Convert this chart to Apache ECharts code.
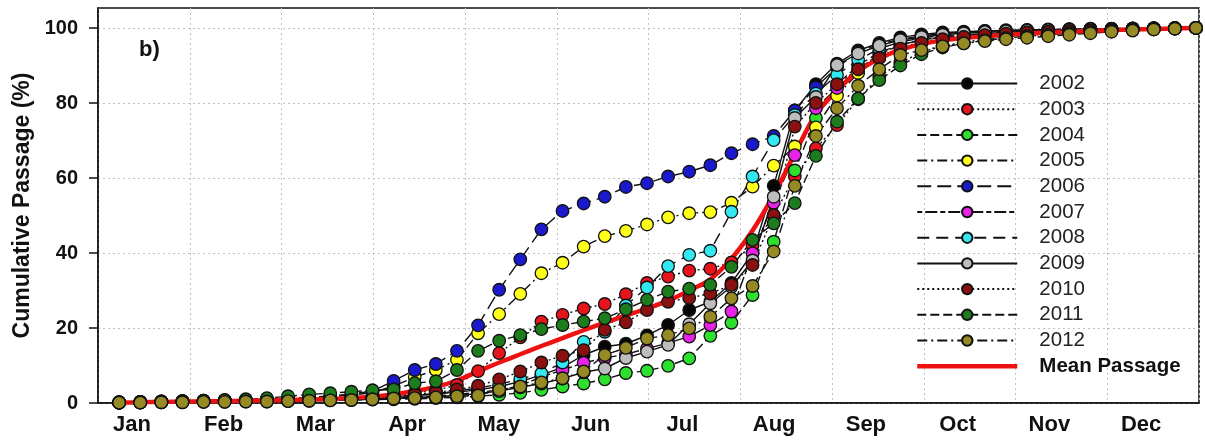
<!DOCTYPE html>
<html>
<head>
<meta charset="utf-8">
<script src="https://cdn.jsdelivr.net/npm/echarts@6/dist/echarts.min.js"></script>
<style>
html,body{margin:0;padding:0;background:#fff;}
#chart{width:1205px;height:445px;}
</style>
</head>
<body>
<div id="chart"></div>
<script>
const months = ['Jan','Feb','Mar','Apr','May','Jun','Jul','Aug','Sep','Oct','Nov','Dec'];
const yTicks = [0,20,40,60,80,100];
// sample day of year for each weekly point
const days = [7,14,21,28,35,42,49,56,63,70,77,84,91,98,105,112,119,126,133,140,147,154,161,168,175,182,189,196,203,210,217,224,231,238,245,252,259,266,273,280,287,294,301,308,315,322,329,336,343,350,357,364];

const y2002 = [0.1,0.2,0.3,0.4,0.5,0.6,0.7,0.8, 0.9,1.0,1.1,1.3,1.5, 1.7,2.0,2.4,2.9,3.5,4.4,5.7, 7.5,9.5,12.8,15,15.8,18,20.8,24.8,27, 32,40,57.9,78,85,90.5,94,96,97.5,98.3,98.8, 99.0,99.2,99.3,99.4,99.5,99.6,99.7,99.75,99.8,99.85,99.9,100];
const y2003 = [0.1,0.2,0.3,0.4,0.5,0.6,0.7,0.8, 0.9,1.0,1.2,1.4,1.7, 2.1,2.7,3.4,4.8,8.5,13.3,17.5, 21.7,23.5,25.2,26.4,29,32,33.7,35.3,35.8, 37.5,42,50,60.4,67.9,74.1,81,87,90.8,93.5,95.2, 96.2,97,97.6,98,98.4,98.7,99,99.3,99.5,99.7,99.85,100];
const y2004 = [0.1,0.1,0.2,0.2,0.3,0.3,0.4,0.4, 0.5,0.6,0.7,0.8,0.9, 1.0,1.1,1.3,1.5,1.8,2.2,2.7, 3.5,4.4,5.2,6.3,8,8.6,9.9,11.9,17.9, 21.4,28.8,43,62,76,85,90,93.5,95.5,96.8,97.6, 98.1,98.5,98.8,99,99.2,99.4,99.55,99.7,99.8,99.88,99.95,100];
const y2005 = [0.2,0.3,0.4,0.5,0.6,0.7,0.8,1.0, 1.2,1.4,1.7,2.1,2.8, 4.5,6.9,8.8,11.5,18.6,23.7,29.1, 34.6,37.4,41.7,44.5,45.9,47.6,49.5,50.6,50.9, 53.4,57.7,63.3,68.4,73.5,82,88,92,94.8,96.3,97.2, 97.8,98.2,98.5,98.8,99,99.2,99.4,99.55,99.7,99.8,99.9,100];
const y2006 = [0.2,0.3,0.4,0.5,0.6,0.7,0.8,1.0, 1.2,1.5,1.9,2.4,3.2, 5.9,8.8,10.4,13.9,20.7,30.2,38.3, 46.3,51.2,53.2,55.0,57.6,58.6,60.4,61.7,63.4, 66.6,69.0,71.2,78,84.2,89.5,93.5,95.7,97,97.9,98.5, 98.9,99.2,99.4,99.5,99.6,99.7,99.8,99.85,99.9,99.93,99.96,100];
const y2007 = [0.1,0.2,0.3,0.4,0.5,0.6,0.7,0.8, 0.9,1.0,1.1,1.2,1.3, 1.4,1.6,1.9,2.3,2.8,3.5,4.6, 7,8.8,10.7,12,13,14.5,16,17.7,20.8, 24.4,39.9,53.4,66.1,78.6,84,89,93,95.5,96.8,97.6, 98.1,98.5,98.8,99,99.2,99.4,99.55,99.7,99.8,99.88,99.95,100];
const y2008 = [0.1,0.2,0.3,0.4,0.5,0.6,0.7,0.8, 0.9,1.0,1.1,1.3,1.5, 1.7,2.0,2.5,3.2,4.0,5.0,6.4, 7.9,10.8,16.3,19,26,30.8,36.5,39.5,40.6, 51,60.4,70.1,76.8,82.5,87.5,91.5,94.5,96.3,97.3,98, 98.4,98.7,99,99.2,99.4,99.5,99.6,99.7,99.8,99.88,99.95,100];
const y2009 = [0.1,0.2,0.2,0.3,0.4,0.5,0.6,0.7, 0.8,0.9,1.0,1.1,1.2, 1.3,1.5,1.7,2.0,2.5,3.2,4.2, 5.2,6.5,8.2,9.2,12,13.7,15.5,21,26.6, 31,38,55,76,81.6,90.1,93.2,95.3,96.8,97.6,98.2, 98.6,98.9,99.1,99.3,99.45,99.6,99.7,99.78,99.85,99.9,99.95,100];
const y2010 = [0.1,0.2,0.3,0.4,0.5,0.6,0.7,0.8, 0.9,1.0,1.1,1.2,1.4, 1.7,2.2,2.8,3.6,4.6,6.3,8.4, 10.8,12.6,14.1,19.5,21.5,24.8,27,28,29.2, 31.5,36.8,50.1,73.7,80,85,89,92,94.5,96,97, 97.6,98.1,98.5,98.8,99,99.2,99.4,99.55,99.7,99.8,99.9,100];
const y2011 = [0.2,0.3,0.4,0.5,0.6,0.8,1.0,1.3, 1.8,2.3,2.6,3.0,3.4, 3.6,5.3,5.8,8.8,13.9,16.6,18.1, 19.7,20.8,21.7,22.6,25,27.5,29.7,30.5,31.5, 36.3,43.5,47.9,53.3,65.9,75,81.2,86.1,90,93,94.8, 95.9,96.7,97.3,97.8,98.2,98.6,98.9,99.2,99.45,99.65,99.85,100];
const y2012 = [0.1,0.1,0.2,0.2,0.3,0.3,0.4,0.4, 0.5,0.6,0.7,0.8,1.0, 1.2,1.3,1.5,1.8,2.0,3.5,4.4, 5.5,6.6,8.4,12.8,14.7,17.2,18.1,19.9,23, 27.9,31.2,40.4,57.9,71.2,78.6,84.6,89,92.8,94.1,95.1, 95.9,96.5,97,97.4,97.8,98.2,98.6,99,99.3,99.6,99.8,100];
const yMean = [0.1,0.2,0.3,0.35,0.4,0.5,0.6,0.7, 0.8,0.95,1.1,1.3,1.7, 2.3,3.2,4.3,6.0,8.4,10.8,13.0, 15.2,17.3,19.4,21.4,23.3,25.2,27.3,30.0,33.0, 38.5,46,55.5,66.5,77,83.3,88.5,91.8,94.2,95.7,96.7, 97.3,97.8,98.2,98.5,98.8,99.05,99.25,99.45,99.6,99.75,99.88,100];

const FONT = '"Liberation Sans", Arial, Helvetica, sans-serif';

const yearDefs = [
  ['2002', y2002, '#050505', 'solid'],
  ['2003', y2003, '#e8141c', [2,3]],
  ['2004', y2004, '#2ee02e', [9,4]],
  ['2005', y2005, '#ffff1a', [10,4,2,4]],
  ['2006', y2006, '#1a1acc', [14,6]],
  ['2007', y2007, '#e623e6', [5,3,12,3]],
  ['2008', y2008, '#33e8f0', [12,7]],
  ['2009', y2009, '#bdbdbd', 'solid'],
  ['2010', y2010, '#8b1010', [2,3]],
  ['2011', y2011, '#1d7d1d', [9,4]],
  ['2012', y2012, '#958a24', [10,4,2,4]]
];

const series = yearDefs.map(function (d) {
  return {
    name: d[0], type: 'line', xAxisIndex: 1, yAxisIndex: 0,
    data: days.map(function (x, i) { return [x, d[1][i]]; }),
    symbol: 'circle', symbolSize: 12.5, clip: false,
    lineStyle: { color: '#111', width: 1.4, type: d[3] },
    itemStyle: { color: d[2], borderColor: '#111', borderWidth: 1.3 },
    emphasis: { disabled: true }
  };
});
series.push({
  name: 'Mean Passage', type: 'line', xAxisIndex: 1, yAxisIndex: 0,
  data: days.map(function (x, i) { return [x, yMean[i]]; }),
  symbol: 'none', smooth: 0.35, clip: false,
  lineStyle: { color: '#ee1111', width: 4.5 },
  itemStyle: { color: '#ee1111' },
  emphasis: { disabled: true }
});

const legendData = yearDefs.map(function (d) { return { name: d[0], lineStyle: { width: 2 } }; });
legendData.push({ name: 'Mean Passage', textStyle: { fontWeight: 'bold', color: '#111' }, itemStyle: { opacity: 0 }, lineStyle: { width: 4.5 } });

const option = {
  animation: false,
  backgroundColor: '#ffffff',
  title: {
    text: 'b)', left: 134, top: 34,
    textStyle: { fontFamily: FONT, fontSize: 22, fontWeight: 'bold', color: '#111' }
  },
  grid: { left: 98, right: 6, top: 8, bottom: 42, show: true, borderColor: '#111', borderWidth: 1.5, backgroundColor: 'transparent' },
  legend: {
    orient: 'vertical', left: 915, top: 73, padding: 0,
    itemWidth: 100, itemHeight: 13, itemGap: 4.7,
    formatter: function (n) { return '   ' + n; },
    textStyle: { fontFamily: FONT, fontSize: 20.5, color: '#222' },
    data: legendData,
    selectedMode: false
  },
  xAxis: [
    {
      type: 'category', data: months, boundaryGap: true, position: 'bottom',
      axisLine: { lineStyle: { color: '#111', width: 1.5 } },
      axisTick: { length: 9, lineStyle: { color: '#111', width: 1.5 } },
      axisLabel: { fontFamily: FONT, fontSize: 22, fontWeight: 'bold', color: '#111', margin: 11, padding: [0, 24, 0, 0] },
      splitLine: { show: true, lineStyle: { type: [2, 3], color: '#c2c2c2', width: 1 } }
    },
    { type: 'value', min: 0, max: 365, show: false }
  ],
  yAxis: [{
    type: 'value', min: 0, max: 105.33, interval: 20,
    name: 'Cumulative Passage (%)', nameLocation: 'middle', nameGap: 63,
    nameTextStyle: { fontFamily: FONT, fontSize: 23, fontWeight: 'bold', color: '#111' },
    axisLine: { show: true, lineStyle: { color: '#111', width: 1.5 } },
    axisTick: { show: true, length: 9, customValues: yTicks, lineStyle: { color: '#111', width: 1.5 } },
    axisLabel: { customValues: yTicks, fontFamily: FONT, fontSize: 20, fontWeight: 'bold', color: '#111', margin: 20 },
    splitLine: { show: true, lineStyle: { type: [2, 3], color: '#c2c2c2', width: 1 } }
  }],
  series: series
};

const chart = echarts.init(document.getElementById('chart'), null, { renderer: 'canvas' });
chart.setOption(option);
</script>
</body>
</html>
